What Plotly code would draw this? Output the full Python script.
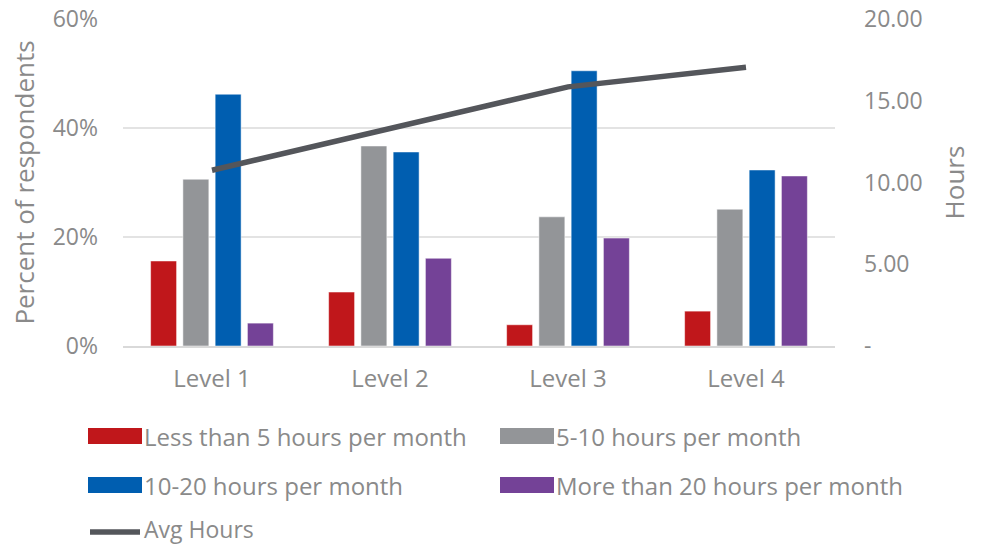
import plotly.graph_objects as go

categories = ["Level 1", "Level 2", "Level 3", "Level 4"]
series_names = ["Less than 5 hours per month", "5-10 hours per month",
                "10-20 hours per month", "More than 20 hours per month"]
less_than_5 = [0.156, 0.099, 0.039, 0.064]
h5_10 = [0.306, 0.367, 0.237, 0.251]
h10_20 = [0.462, 0.356, 0.505, 0.323]
more_than_20 = [0.042, 0.161, 0.198, 0.312]
avg_hours = [10.75, 13.3, 15.85, 17.05]
line_name = "Avg Hours"

left_ticks = [0, 0.2, 0.4, 0.6]
left_ticktext = ["0%", "20%", "40%", "60%"]
right_ticks = [0, 5, 10, 15, 20]
right_ticktext = ["-", "5.00", "10.00", "15.00", "20.00"]

colors = ["#C0171B", "#939598", "#005EB0", "#744297"]
line_color = "#54565B"
text_color = "#8A8A8A"
font_family = "Open Sans"

fig = go.Figure()
for name, vals, col in zip(series_names, [less_than_5, h5_10, h10_20, more_than_20], colors):
    fig.add_trace(go.Bar(x=categories, y=vals, name=name, marker_color=col,
                         marker_line=dict(width=1, color="rgba(255,255,255,0.5)"),
                         showlegend=False))
fig.add_trace(go.Scatter(x=categories, y=avg_hours, name=line_name, yaxis="y2",
                         mode="lines", line=dict(color=line_color, width=5.5),
                         showlegend=False))

# manual legend (paper coordinates)
def px2paper_x(px):
    return (px - 123) / 712
def px2paper_y(py):
    return (346 - py) / 327

shapes = []
annotations = []
legend_cells = [(88, 436), (500, 436), (88, 485), (500, 485)]
for (lx, ly), name, col in zip(legend_cells, series_names, colors):
    shapes.append(dict(type="rect", xref="paper", yref="paper",
                       x0=px2paper_x(lx), x1=px2paper_x(lx + 54),
                       y0=px2paper_y(ly + 8), y1=px2paper_y(ly - 8),
                       fillcolor=col, line=dict(width=0)))
    annotations.append(dict(xref="paper", yref="paper", x=px2paper_x(lx + 54),
                            y=px2paper_y(ly), text=name, showarrow=False,
                            xanchor="left", yanchor="middle",
                            font=dict(family=font_family, size=24, color=text_color)))
shapes.append(dict(type="line", xref="paper", yref="paper",
                   x0=px2paper_x(90), x1=px2paper_x(140),
                   y0=px2paper_y(532), y1=px2paper_y(532),
                   line=dict(color=line_color, width=5.5)))
annotations.append(dict(xref="paper", yref="paper", x=px2paper_x(142),
                        y=px2paper_y(529), text=line_name, showarrow=False,
                        xanchor="left", yanchor="middle",
                        font=dict(family=font_family, size=23, color=text_color)))

fig.update_layout(
    width=983, height=546,
    margin=dict(l=123, r=148, t=19, b=200),
    paper_bgcolor="white", plot_bgcolor="white",
    font=dict(family=font_family, size=20, color=text_color),
    barmode="group", bargap=0.275, bargroupgap=0.195,
    xaxis=dict(showgrid=False, showline=True, linecolor="#D9D9D9", linewidth=1.5,
               ticks="", tickfont=dict(size=24, color=text_color), ticklabelstandoff=10,
               automargin=False),
    yaxis=dict(range=[0, 0.6], tickvals=left_ticks, ticktext=left_ticktext,
               showgrid=True, gridcolor="#E3E3E3", gridwidth=1.5, zeroline=False,
               ticklabelstandoff=24, tickfont=dict(size=23, color=text_color),
               automargin=False,
               title=dict(text="Percent of respondents", standoff=10,
                          font=dict(size=26, color=text_color))),
    yaxis2=dict(range=[0, 20], tickvals=right_ticks, ticktext=right_ticktext,
                overlaying="y", side="right", showgrid=False, zeroline=False,
                ticklabelstandoff=28, tickfont=dict(size=23, color=text_color),
                automargin=False,
                title=dict(text="Hours", standoff=24, font=dict(size=26, color=text_color))),
    shapes=shapes, annotations=annotations,
    showlegend=False,
)

fig.write_html("out.html", config={"displayModeBar": False},
               post_script="document.body.style.margin='0';document.body.style.overflow='hidden';")
